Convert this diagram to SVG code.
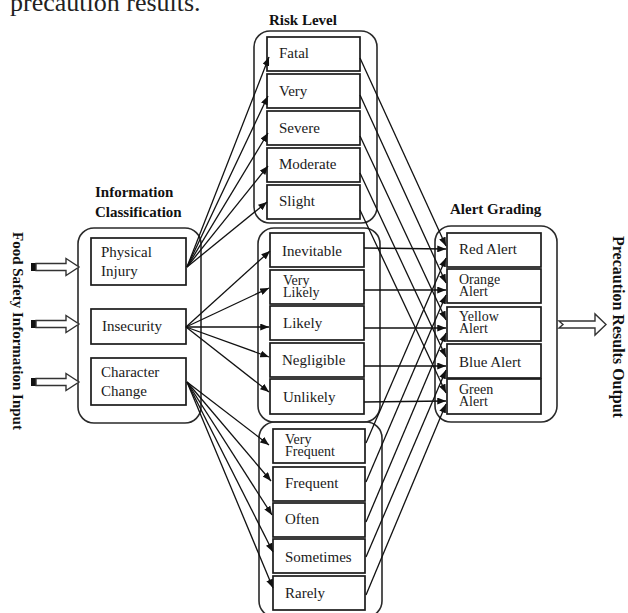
<svg xmlns="http://www.w3.org/2000/svg" width="628" height="613" viewBox="0 0 628 613">
  <style>
    .bg { fill: #ffffff; }
    .group { fill: none; stroke: #2a2a2a; stroke-width: 1.6; }
    .box { fill: #ffffff; stroke: #1a1a1a; stroke-width: 1.7; }
    .t { font-family: "Liberation Serif", "Times New Roman", serif; font-size: 15px; fill: #1a1a1a; }
    .t2 { font-family: "Liberation Serif", "Times New Roman", serif; font-size: 14px; fill: #1a1a1a; }
    .tt { font-family: "Liberation Serif", "Times New Roman", serif; font-size: 15px; font-weight: bold; fill: #111; }
    .lead { font-family: "Liberation Serif", "Times New Roman", serif; font-size: 26px; fill: #222; }
    .c { fill: none; stroke: #111; stroke-width: 1.3; marker-end: url(#ah); }
    .hollow { fill: #ffffff; stroke: #333; stroke-width: 1.4; stroke-linejoin: miter; }
  </style>
  <defs>
    <marker id="ah" viewBox="0 0 10 8" refX="10" refY="4" markerWidth="9" markerHeight="7" markerUnits="userSpaceOnUse" orient="auto">
      <path d="M0,0 L10,4 L0,8 z" fill="#111"/>
    </marker>
  </defs>
  <rect class="bg" x="0" y="0" width="628" height="613"/>

  <!-- tail of the preceding paragraph -->
  <text class="lead" x="10" y="11">precaution results.</text>

  <!-- side captions -->
  <text class="tt" transform="translate(13,232) rotate(90)">Food Safety Information Input</text>
  <text class="tt" style="font-size:16px" transform="translate(613,236) rotate(90)">Precaution Results Output</text>

  <!-- Information Classification -->
  <g id="info-classification">
    <text class="tt" x="95" y="197">Information</text>
    <text class="tt" x="95" y="217">Classification</text>
    <rect class="group" x="78" y="228" width="123" height="195" rx="16"/>
    <g id="physical-injury">
      <rect class="box" x="91" y="238" width="95" height="47"/>
      <text class="t" x="101" y="257">Physical</text>
      <text class="t" x="101" y="276">Injury</text>
    </g>
    <g id="insecurity">
      <rect class="box" x="91" y="309" width="95" height="35"/>
      <text class="t" x="102" y="331">Insecurity</text>
    </g>
    <g id="character-change">
      <rect class="box" x="91" y="358" width="95" height="47"/>
      <text class="t" x="101" y="377">Character</text>
      <text class="t" x="101" y="396">Change</text>
    </g>
  </g>

  <!-- Risk Level: severity -->
  <g id="risk-level">
    <text class="tt" x="269" y="25">Risk Level</text>
    <rect class="group" x="254" y="31" width="123" height="192" rx="16"/>
    <g id="fatal"><rect class="box" x="267" y="37" width="93" height="34"/><text class="t" x="279" y="58">Fatal</text></g>
    <g id="very"><rect class="box" x="267" y="74" width="93" height="34"/><text class="t" x="279" y="96">Very</text></g>
    <g id="severe"><rect class="box" x="267" y="111" width="93" height="34"/><text class="t" x="279" y="133">Severe</text></g>
    <g id="moderate"><rect class="box" x="267" y="148" width="93" height="34"/><text class="t" x="279" y="169">Moderate</text></g>
    <g id="slight"><rect class="box" x="267" y="185" width="93" height="34"/><text class="t" x="279" y="206">Slight</text></g>
  </g>

  <!-- Risk Level: likelihood -->
  <g id="likelihood">
    <rect class="group" x="258" y="228" width="122" height="194" rx="16"/>
    <g id="inevitable"><rect class="box" x="270" y="233" width="94" height="34"/><text class="t" x="282" y="256">Inevitable</text></g>
    <g id="very-likely"><rect class="box" x="270" y="270" width="94" height="34"/><text class="t2" x="283" y="285">Very</text><text class="t2" x="283" y="297">Likely</text></g>
    <g id="likely"><rect class="box" x="270" y="306" width="94" height="34"/><text class="t" x="283" y="328">Likely</text></g>
    <g id="negligible"><rect class="box" x="270" y="343" width="94" height="34"/><text class="t" x="282" y="365">Negligible</text></g>
    <g id="unlikely"><rect class="box" x="270" y="379" width="94" height="35"/><text class="t" x="283" y="402">Unlikely</text></g>
  </g>

  <!-- Risk Level: frequency -->
  <g id="frequency">
    <rect class="group" x="259" y="422" width="123" height="195" rx="16"/>
    <g id="very-frequent"><rect class="box" x="273" y="429" width="92" height="34"/><text class="t2" x="285" y="444">Very</text><text class="t2" x="285" y="456">Frequent</text></g>
    <g id="frequent"><rect class="box" x="273" y="467" width="92" height="34"/><text class="t" x="285" y="488">Frequent</text></g>
    <g id="often"><rect class="box" x="273" y="503" width="92" height="34"/><text class="t" x="285" y="524">Often</text></g>
    <g id="sometimes"><rect class="box" x="273" y="539" width="92" height="34"/><text class="t" x="285" y="562">Sometimes</text></g>
    <g id="rarely"><rect class="box" x="273" y="576" width="92" height="34"/><text class="t" x="285" y="598">Rarely</text></g>
  </g>

  <!-- Alert Grading -->
  <g id="alert-grading">
    <text class="tt" x="450" y="214">Alert Grading</text>
    <rect class="group" x="435" y="226" width="122" height="196" rx="16"/>
    <g id="red-alert"><rect class="box" x="447" y="233" width="94" height="34"/><text class="t" x="459" y="254">Red Alert</text></g>
    <g id="orange-alert"><rect class="box" x="447" y="269" width="94" height="34"/><text class="t2" x="459" y="284">Orange</text><text class="t2" x="459" y="296">Alert</text></g>
    <g id="yellow-alert"><rect class="box" x="447" y="307" width="94" height="34"/><text class="t2" x="459" y="321">Yellow</text><text class="t2" x="459" y="333">Alert</text></g>
    <g id="blue-alert"><rect class="box" x="447" y="344" width="94" height="34"/><text class="t" x="459" y="367">Blue Alert</text></g>
    <g id="green-alert"><rect class="box" x="447" y="379" width="94" height="35"/><text class="t2" x="459" y="394">Green</text><text class="t2" x="459" y="406">Alert</text></g>
  </g>

  <!-- connectors -->
  <g id="connectors">
    <!-- inputs -->
    <rect x="31" y="263" width="5" height="8" fill="#111"/>
    <path class="hollow" d="M36,263.5 H66 V258.5 L79,267 L66,275.5 V270.5 H36 Z"/>
    <rect x="31" y="320" width="5" height="8" fill="#111"/>
    <path class="hollow" d="M36,320.5 H66 V315.5 L79,324 L66,332.5 V327.5 H36 Z"/>
    <rect x="31" y="378" width="5" height="8" fill="#111"/>
    <path class="hollow" d="M36,378.5 H66 V373.5 L79,382 L66,390.5 V385.5 H36 Z"/>

    <!-- Physical Injury to severity -->
    <line class="c" x1="187" y1="267" x2="269" y2="57"/>
    <line class="c" x1="187" y1="267" x2="268" y2="96"/>
    <line class="c" x1="187" y1="267" x2="268" y2="133"/>
    <line class="c" x1="187" y1="267" x2="268" y2="166"/>
    <line class="c" x1="187" y1="267" x2="267" y2="202"/>

    <!-- Insecurity to likelihood -->
    <line class="c" x1="186" y1="327" x2="270" y2="251"/>
    <line class="c" x1="186" y1="327" x2="269" y2="288"/>
    <line class="c" x1="186" y1="327" x2="269" y2="327"/>
    <line class="c" x1="186" y1="327" x2="269" y2="357"/>
    <line class="c" x1="186" y1="327" x2="269" y2="392"/>

    <!-- Character Change to frequency -->
    <line class="c" x1="187" y1="382" x2="269" y2="445"/>
    <line class="c" x1="187" y1="382" x2="271" y2="481"/>
    <line class="c" x1="187" y1="382" x2="272" y2="515"/>
    <line class="c" x1="187" y1="382" x2="273" y2="552"/>
    <line class="c" x1="187" y1="382" x2="273" y2="588"/>

    <!-- severity to alerts -->
    <line class="c" x1="360" y1="58" x2="446" y2="246"/>
    <line class="c" x1="360" y1="95" x2="446" y2="283"/>
    <line class="c" x1="360" y1="136" x2="446" y2="320"/>
    <line class="c" x1="360" y1="173" x2="446" y2="357"/>
    <line class="c" x1="360" y1="210" x2="446" y2="393"/>

    <!-- likelihood to alerts -->
    <line class="c" x1="364" y1="248" x2="446" y2="249"/>
    <line class="c" x1="364" y1="290" x2="446" y2="290"/>
    <line class="c" x1="364" y1="328" x2="446" y2="328"/>
    <line class="c" x1="364" y1="366" x2="446" y2="366"/>
    <line class="c" x1="364" y1="402" x2="446" y2="401"/>

    <!-- frequency to alerts -->
    <line class="c" x1="366" y1="443" x2="446" y2="258"/>
    <line class="c" x1="366" y1="482" x2="446" y2="295"/>
    <line class="c" x1="366" y1="522" x2="446" y2="333"/>
    <line class="c" x1="366" y1="557" x2="446" y2="370"/>
    <line class="c" x1="366" y1="595" x2="446" y2="404"/>

    <!-- output -->
    <path class="hollow" d="M559,321 H595 V314 L606,324.5 L595,335 V328 H559 L563,324.5 Z"/>
  </g>
</svg>
